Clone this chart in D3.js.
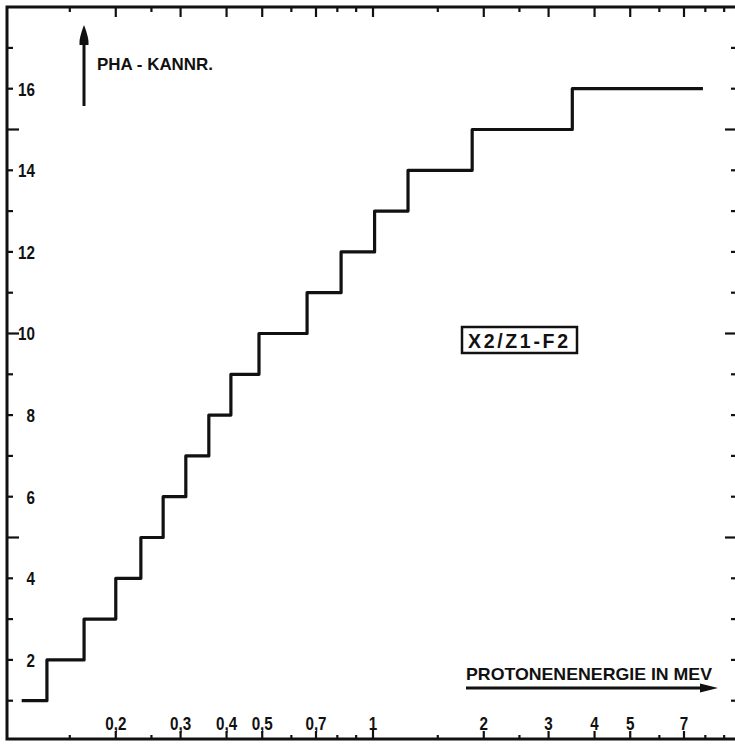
<!DOCTYPE html>
<html>
<head>
<meta charset="utf-8">
<script src="https://cdn.jsdelivr.net/npm/d3@7"></script>
<style>
  html, body { margin: 0; padding: 0; background: #fff; }
  svg { display: block; }
  text { font-family: "Liberation Sans", Arial, sans-serif; font-weight: bold; fill: #111; }
</style>
</head>
<body>
<svg id="chart" width="735" height="745"></svg>
<script>
// ---- data ----
const channels = [1, 2, 3, 4, 5, 6, 7, 8, 9, 10, 11, 12, 13, 14, 15, 16];
// lower proton-energy edge (MeV) of each channel
const energyEdges = [0.111, 0.130, 0.164, 0.200, 0.234, 0.269, 0.310, 0.358, 0.411, 0.490, 0.662, 0.819, 1.01, 1.245, 1.86, 3.48];
const energyEnd = 7.88;

const xMajorTicks = [0.2, 0.3, 0.4, 0.5, 0.7, 1, 2, 3, 4, 5, 7];
const xMajorLabels = ["0,2", "0,3", "0,4", "0,5", "0,7", "1", "2", "3", "4", "5", "7"];
const xMinorTicks = [0.15, 0.25, 0.6, 0.8, 0.9, 1.5, 2.5, 6, 8, 9];
const yTicks = [1, 2, 3, 4, 5, 6, 7, 8, 9, 10, 11, 12, 13, 14, 15, 16, 17];
const yLabels = [2, 4, 6, 8, 10, 12, 14, 16];
const yLongTicks = [5, 10, 15];

const yTitle = "PHA - KANNR.";
const xTitle = "PROTONENENERGIE IN MEV";
const boxLabel = "X2/Z1-F2";

// ---- layout ----
const svg = d3.select("#chart");
const x = d3.scaleLog().domain([0.1, 10]).range([5, 741]);
const y = d3.scaleLinear().domain([0, 18]).range([741.5, 7.1]);

const frame = { left: 7, top: 7, bottom: 739, right: 741 };
const ink = "#111";

// frame
svg.append("path")
  .attr("d", `M${frame.left},${frame.top}H${frame.right}M${frame.left},${frame.top}V${frame.bottom}H${frame.right}M${frame.right},${frame.top}V${frame.bottom}`)
  .attr("fill", "none").attr("stroke", ink).attr("stroke-width", 3).attr("stroke-linecap", "square");

// top/bottom ticks (inward)
const gT = svg.append("g").attr("stroke", ink).attr("stroke-width", 2.2);
xMajorTicks.forEach(v => {
  const len = v === 1 ? 10 : 8;
  gT.append("line").attr("x1", x(v)).attr("x2", x(v)).attr("y1", frame.bottom).attr("y2", frame.bottom - len);
  gT.append("line").attr("x1", x(v)).attr("x2", x(v)).attr("y1", frame.top).attr("y2", frame.top + 10);
});
xMinorTicks.forEach(v => {
  gT.append("line").attr("x1", x(v)).attr("x2", x(v)).attr("y1", frame.bottom).attr("y2", frame.bottom - 4);
  gT.append("line").attr("x1", x(v)).attr("x2", x(v)).attr("y1", frame.top).attr("y2", frame.top + 5);
});
// left and right ticks
yTicks.forEach(v => {
  const long = yLongTicks.includes(v);
  gT.append("line").attr("x1", frame.left).attr("x2", frame.left + (long ? 12 : 6)).attr("y1", y(v)).attr("y2", y(v));
  gT.append("line").attr("x1", frame.right).attr("x2", frame.right - (long ? 16 : 10)).attr("y1", y(v)).attr("y2", y(v));
});

// bottom labels
xMajorTicks.forEach((v, i) => {
  svg.append("text")
    .attr("transform", `translate(${x(v)},${730}) scale(0.8,1)`)
    .attr("text-anchor", "middle")
    .style("font-size", "19px")
    .text(xMajorLabels[i]);
});
// left labels
yLabels.forEach(v => {
  svg.append("text")
    .attr("transform", `translate(35,${y(v) + 6.8}) scale(0.8,1)`)
    .attr("text-anchor", "end")
    .style("font-size", "19px")
    .text(v);
});

// step line
const pts = energyEdges.map((e, i) => [e, channels[i]]);
pts.push([energyEnd, channels[channels.length - 1]]);
const line = d3.line().x(d => x(d[0])).y(d => y(d[1])).curve(d3.curveStepAfter);
svg.append("path").datum(pts)
  .attr("d", line)
  .attr("fill", "none").attr("stroke", ink).attr("stroke-width", 3.2).attr("stroke-linejoin", "round");

// y title + arrow
svg.append("line").attr("x1", 84).attr("x2", 84).attr("y1", 106).attr("y2", 40)
  .attr("stroke", ink).attr("stroke-width", 3);
svg.append("path").attr("d", "M84,25 C86,30 88.5,38 88.5,42 L88.5,45 L79.5,45 L79.5,42 C79.5,38 82,30 84,25 Z").attr("fill", ink);
svg.append("text").attr("x", 97).attr("y", 70).style("font-size", "17px")
  .attr("textLength", 116).attr("lengthAdjust", "spacingAndGlyphs").text(yTitle);

// x title + arrow
svg.append("text").attr("x", 466).attr("y", 680).style("font-size", "17px")
  .attr("textLength", 246).attr("lengthAdjust", "spacingAndGlyphs").text(xTitle);
svg.append("line").attr("x1", 466).attr("x2", 704).attr("y1", 688).attr("y2", 688)
  .attr("stroke", ink).attr("stroke-width", 3);
svg.append("path").attr("d", "M718,688 L700,683.5 L700,692.5 Z").attr("fill", ink);

// boxed label
svg.append("rect").attr("x", 462).attr("y", 327).attr("width", 115).attr("height", 26)
  .attr("fill", "none").attr("stroke", ink).attr("stroke-width", 2.5);
svg.append("text").attr("x", 468).attr("y", 347.5).style("font-size", "19.5px")
  .attr("textLength", 100).attr("lengthAdjust", "spacing").text(boxLabel);
</script>
</body>
</html>
